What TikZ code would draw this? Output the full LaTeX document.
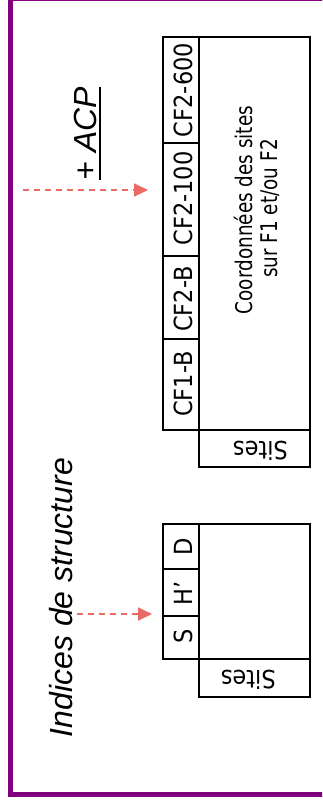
\documentclass[tikz,border=0pt]{standalone}
\usepackage{fontspec}
\usetikzlibrary{arrows.meta}
\newfontfamily\tabfont[FakeStretch=0.9]{DejaVu Sans}
\newfontfamily\bodyfont[FakeStretch=0.8]{DejaVu Sans}
\newfontfamily\lsfont{Liberation Sans}
\definecolor{framepurple}{HTML}{800080}
\definecolor{arrowred}{HTML}{EA6B66}
\begin{document}
\begin{tikzpicture}[x=1pt,y=-1pt,
  tabline/.style={draw=black, line width=2pt},
  hdr/.style={font=\tabfont\fontsize{25}{30}\selectfont, rotate=90, anchor=base, inner sep=0pt},
  body/.style={font=\bodyfont\fontsize{23}{25}\selectfont, rotate=90, anchor=base, inner sep=0pt},
  sites/.style={font=\tabfont\fontsize{25}{30}\selectfont, rotate=180, anchor=base, inner sep=0pt},
  bigit/.style={font=\lsfont\itshape\fontsize{32}{38}\selectfont, rotate=90, anchor=base, inner sep=0pt},
  dasharrow/.style={draw=arrowred, line width=1.8pt, dash pattern=on 6pt off 5pt,
    -{Triangle[length=14pt,width=13pt]}}
]
\useasboundingbox (0,0) rectangle (322,804);
\clip (0,0) rectangle (322,804);
% frame
\draw[framepurple, line width=5.5pt] (10.5,-2) rectangle (340,794.5);

% big table
\draw[tabline] (162.5,37) rectangle (199,429.5);
\draw[tabline] (162.5,143) -- (199,143);
\draw[tabline] (162.5,256) -- (199,256);
\draw[tabline] (162.5,339) -- (199,339);
\draw[tabline] (199,37) rectangle (309.5,429.5);
\draw[tabline] (199,429.5) rectangle (309.5,466.5);
\node[hdr] (cf600) at (192.5,90) {CF2-600};
\node[hdr] (cf100) at (192.5,198.5) {CF2-100};
\node[hdr] (cf2b) at (192.5,299) {CF2-B};
\node[hdr] (cf1b) at (192.5,384) {CF1-B};
\node[body] (coordA) at (252,210) {Coordonnées des sites};
\node[body] (coordB) at (277,208.5) {sur F1 et/ou F2};
\node[sites] (sitesA) at (260.4,441.7) {Sites};

% small table
\draw[tabline] (162.5,524) rectangle (199,659);
\draw[tabline] (162.5,569) -- (199,569);
\draw[tabline] (162.5,615.5) -- (199,615.5);
\draw[tabline] (199,524) rectangle (309.5,659);
\draw[tabline] (199,659) rectangle (309.5,697);
\node[hdr] (hd) at (192.5,547) {D};
\node[hdr] (hh) at (192.5,593) {H’};
\node[hdr] (hs) at (192.5,636.5) {S};
\node[sites] (sitesB) at (248.3,670) {Sites};

% labels
\node[bigit] (acp) at (96.7,133.5) {+ ACP};
\draw[line width=2pt] ([xshift=3.3pt]acp.base west) -- ([xshift=3.3pt]acp.base east);
\node[bigit] (indices) at (72,597.5) {Indices de structure};

% arrows
\coordinate (a1s) at (23,190);
\coordinate (a1e) at (148,190);
\coordinate (a2s) at (77,614);
\coordinate (a2e) at (152,614);
\draw[dasharrow] (a1s) -- (a1e);
\draw[dasharrow] (a2s) -- (a2e);
\end{tikzpicture}
\end{document}
